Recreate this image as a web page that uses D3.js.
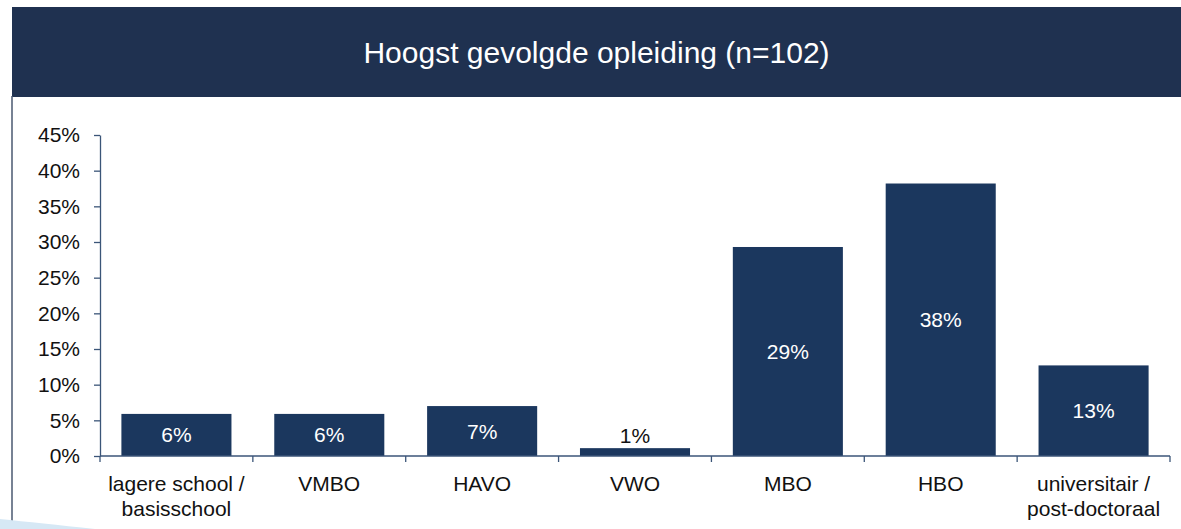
<!DOCTYPE html>
<html>
<head>
<meta charset="utf-8">
<script src="https://cdn.jsdelivr.net/npm/d3@7"></script>
<style>
  body { margin: 0; background: #fff; }
  text { font-family: "Liberation Sans", Arial, sans-serif; }
</style>
</head>
<body>
<div id="chart"></div>
<script>
const title = "Hoogst gevolgde opleiding (n=102)";
const categories = ["lagere school /\nbasisschool", "VMBO", "HAVO", "VWO", "MBO", "HBO", "universitair /\npost-doctoraal"];
const percentages = [5.9, 5.9, 7.0, 1.1, 29.3, 38.2, 12.7];
const yTicks = [0, 5, 10, 15, 20, 25, 30, 35, 40, 45];

const W = 1181, H = 529;
const margin = { top: 135, right: 11, bottom: 73, left: 100 },
  width = W - margin.left - margin.right,
  height = H - margin.top - margin.bottom;

const navy = "#1f3150";
const barColor = "#1b375e";
const axisColor = "#3b5578";

const root = d3.select("#chart")
  .append("svg")
  .attr("width", W)
  .attr("height", H);

// header band + frame
root.append("rect")
  .attr("x", 12).attr("y", 7)
  .attr("width", W - 12).attr("height", 90)
  .attr("fill", navy);

root.append("text")
  .attr("x", 12 + (W - 12) / 2)
  .attr("y", 63)
  .attr("text-anchor", "middle")
  .attr("fill", "#fff")
  .style("font-size", "30px")
  .text(title);

root.append("line")
  .attr("x1", 12).attr("x2", 12)
  .attr("y1", 96).attr("y2", H)
  .attr("stroke", "#4a5870")
  .attr("stroke-width", 1.5);

root.append("path")
  .attr("d", `M0,519 Q40,523 95,${H} L0,${H} Z`)
  .attr("fill", "#d6e8f5");

const svg = root.append("g")
  .attr("transform", `translate(${margin.left},${margin.top})`);

const x = d3.scaleBand()
  .domain(categories)
  .range([0, width])
  .paddingInner(0.28)
  .paddingOuter(0.14);

const y = d3.scaleLinear()
  .domain([0, 45])
  .range([height, 0]);

// bars
svg.selectAll(".bar")
  .data(percentages)
  .join("rect")
  .attr("class", "bar")
  .attr("x", (d, i) => x(categories[i]))
  .attr("width", x.bandwidth())
  .attr("y", d => y(d))
  .attr("height", d => y(0) - y(d))
  .attr("fill", barColor);

// y axis
const yAxis = svg.append("g")
  .call(d3.axisLeft(y).tickValues(yTicks).tickSize(6).tickSizeOuter(0).tickPadding(14)
    .tickFormat(d => d + "%"));
yAxis.select(".domain").attr("stroke", axisColor).attr("stroke-width", 1.3);
yAxis.selectAll(".tick line").attr("stroke", axisColor).attr("stroke-width", 1.3);
yAxis.selectAll(".tick text")
  .attr("fill", "#111")
  .style("font-size", "21px")
  .style("font-family", "'Liberation Sans', Arial, sans-serif");

// x axis line with ticks at category boundaries
const gap = (x.step() - x.bandwidth()) / 2;
const bounds = categories.map(c => x(c) - gap).concat([x(categories[categories.length - 1]) + x.bandwidth() + gap]);

svg.append("line")
  .attr("x1", 0).attr("x2", width)
  .attr("y1", y(0)).attr("y2", y(0))
  .attr("stroke", axisColor)
  .attr("stroke-width", 1.3);

svg.selectAll(".xtick")
  .data(bounds)
  .join("line")
  .attr("class", "xtick")
  .attr("x1", d => d).attr("x2", d => d)
  .attr("y1", y(0)).attr("y2", y(0) + 6)
  .attr("stroke", axisColor)
  .attr("stroke-width", 1.3);

// category labels
const catLabels = svg.selectAll(".cat")
  .data(categories)
  .join("text")
  .attr("class", "cat")
  .attr("text-anchor", "middle")
  .attr("fill", "#111")
  .style("font-size", "21px");

catLabels.selectAll("tspan")
  .data(d => d.split("\n").map(line => ({ line, c: d })))
  .join("tspan")
  .attr("x", d => x(d.c) + x.bandwidth() / 2)
  .attr("y", (d, i) => y(0) + 35 + i * 25)
  .text(d => d.line);

// value labels
svg.selectAll(".val")
  .data(percentages)
  .join("text")
  .attr("class", "val")
  .attr("text-anchor", "middle")
  .attr("x", (d, i) => x(categories[i]) + x.bandwidth() / 2)
  .attr("y", d => d < 3 ? y(d) - 5 : (y(d) + y(0)) / 2 + 7.5)
  .attr("fill", d => d < 3 ? "#111" : "#fff")
  .style("font-size", "21px")
  .text(d => Math.round(d) + "%");
</script>
</body>
</html>
